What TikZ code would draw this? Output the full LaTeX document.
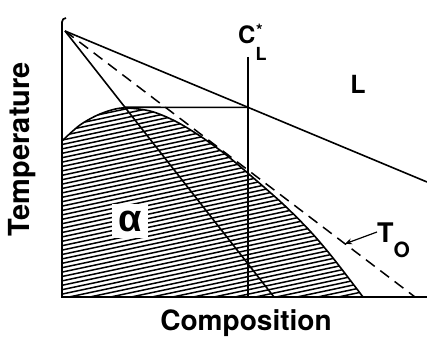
\documentclass[tikz,border=0pt]{standalone}
\usepackage{fontspec}
\setmainfont{TeX Gyre Heros}
\newfontfamily\grkfont{Liberation Sans}
\usetikzlibrary{arrows.meta,positioning,calc}

\begin{document}
\begin{tikzpicture}[
  x=1pt, y=1pt,
  font=\bfseries,
  axis/.style={line width=1.7pt},
  phase/.style={line width=1.6pt},
  tzero/.style={line width=1.5pt, dash pattern=on 11pt off 7pt},
  hatch/.style={line width=1.5pt},
  lbl/.style={inner sep=0pt},
]
  \useasboundingbox (0,0) rectangle (427,344);

  \coordinate (O) at (62,47);
  \coordinate (xend) at (427,47);
  \coordinate (ytop) at (62,322);
  \coordinate (A) at (65,313);
  \coordinate (liq) at (427,162);
  \coordinate (sol) at (274,47);
  \coordinate (to) at (415,47);
  \coordinate (cltop) at (248,287);
  \coordinate (clbot) at (248,47);
  \coordinate (tie) at (intersection of A--liq and cltop--clbot);
  \coordinate (yl) at (O |- tie);
  \coordinate (tiel) at (intersection of A--sol and tie--yl);

  % alpha field, hatched
  \begin{scope}
    \clip (O) -- plot[smooth] coordinates {(62,203) (80,219) (100,230) (122,236)
      (150,233) (175,223) (200,208) (225,190) (250,169) (283,140) (310,113)
      (333,86) (363,47)} -- cycle;
    \foreach \i in {-6,...,56}
      \draw[hatch] (55,4.4*\i) -- ++(320,68);
  \end{scope}
  \draw[phase] plot[smooth] coordinates {(62,203) (80,219) (100,230) (122,236)
      (150,233) (175,223) (200,208) (225,190) (250,169) (283,140) (310,113)
      (333,86) (363,47)};

  \draw[axis] (xend) -- (O) -- (ytop) to[out=90,in=180] (66,326);
  \draw[phase] (A) -- (liq);
  \draw[phase] (A) -- (sol);
  \draw[tzero] (A) -- (to);
  \draw[phase] (cltop) -- (clbot);
  \draw[phase] (tiel) -- (tie);

  \node[lbl, anchor=base west, font=\bfseries\fontsize{24}{24}\selectfont] (cl) at (238,300)
    {C\raisebox{-17pt}{\fontsize{18}{18}\selectfont L}\hspace{-10.5pt}\raisebox{7pt}{\fontsize{17}{17}\selectfont *}};
  \node[lbl, font=\bfseries\fontsize{25}{25}\selectfont] (liqlab) at (358,260) {L};
  \node[lbl, fill=white, inner xsep=6pt, inner ysep=7pt, font=\grkfont\bfseries\fontsize{38}{38}\selectfont] (alpha) at (130,123) {α};
  \node[lbl, anchor=base west, font=\bfseries\fontsize{27}{27}\selectfont] (tol) at (377,101)
    {T\raisebox{-15pt}{\fontsize{21}{21}\selectfont O}};
  \draw[-{Stealth[length=7pt,width=6pt]}, line width=1.2pt] (tol.west |- 0,112) -- ($(A)!0.8!(to)$);

  \node[lbl, rotate=90, font=\bfseries\fontsize{29}{29}\selectfont] (ylab) at (22,195) {Temperature};
  \node[lbl, font=\bfseries\fontsize{28}{28}\selectfont] (xlab) at (246,21) {Composition};
\end{tikzpicture}
\end{document}
